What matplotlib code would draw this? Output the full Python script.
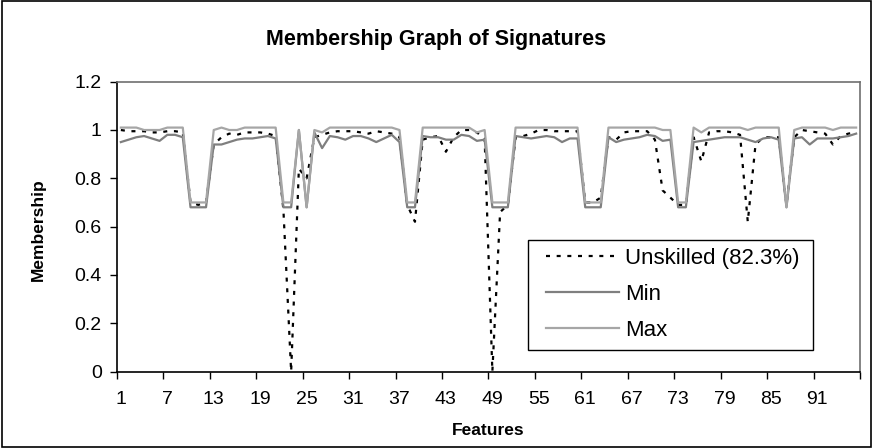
import matplotlib
matplotlib.use("Agg")
import matplotlib.pyplot as plt
import numpy as np
from matplotlib.patches import Rectangle

features = np.arange(1, 97)

unskilled = [
    1.0, 0.995, 0.995, 0.995, 0.99, 0.99, 0.995, 0.995, 0.99,
    0.70, 0.69, 0.70,
    0.94, 0.97, 0.985, 0.98, 0.99, 0.99, 0.99, 0.985, 0.975,
    0.67, 0.0, 0.84, 0.80,
    0.97, 0.98, 0.99, 0.995, 0.995, 0.995, 0.99, 0.985, 0.995, 0.99, 0.985, 0.97,
    0.69, 0.62,
    0.96, 0.97, 0.975, 0.91, 0.97, 1.0, 1.0, 0.99, 0.965,
    0.0, 0.66, 0.69,
    0.97, 0.975, 0.985, 1.0, 1.0, 0.995, 0.995, 0.995, 0.995,
    0.70, 0.70, 0.72,
    0.97, 0.96, 0.99, 0.995, 0.995, 0.995, 0.96, 0.75, 0.72,
    0.69, 0.69,
    0.97, 0.87, 0.99, 0.995, 0.995, 0.99, 0.98, 0.62, 0.94, 0.97, 0.97, 0.97,
    0.69,
    0.97, 1.0, 0.995, 0.99, 0.985, 0.94, 0.975, 0.985, 0.99,
]

min_vals = [
    0.95, 0.96, 0.97, 0.975, 0.965, 0.955, 0.98, 0.98, 0.97,
    0.68, 0.68, 0.68,
    0.94, 0.94, 0.95, 0.96, 0.965, 0.965, 0.97, 0.975, 0.965,
    0.68, 0.68, 1.0, 0.68,
    0.99, 0.925, 0.975, 0.97, 0.96, 0.975, 0.975, 0.965, 0.95, 0.965, 0.98, 0.95,
    0.68, 0.68,
    0.975, 0.97, 0.97, 0.96, 0.96, 0.98, 0.975, 0.955, 0.96,
    0.68, 0.68, 0.68,
    0.975, 0.97, 0.965, 0.97, 0.975, 0.97, 0.95, 0.965, 0.965,
    0.68, 0.68, 0.68,
    0.97, 0.95, 0.96, 0.965, 0.97, 0.98, 0.975, 0.955, 0.96,
    0.68, 0.68,
    0.95, 0.955, 0.96, 0.965, 0.97, 0.97, 0.97, 0.96, 0.95, 0.965, 0.97, 0.96,
    0.68,
    0.965, 0.97, 0.94, 0.965, 0.965, 0.965, 0.97, 0.975, 0.985,
]

max_vals = [
    1.01, 1.01, 1.01, 1.0, 1.0, 1.0, 1.01, 1.01, 1.01,
    0.70, 0.70, 0.70,
    1.0, 1.01, 1.0, 1.0, 1.01, 1.01, 1.01, 1.01, 1.01,
    0.70, 0.70, 1.0, 0.68,
    1.0, 0.99, 1.01, 1.01, 1.01, 1.01, 1.01, 1.01, 1.01, 1.01, 1.01, 1.0,
    0.70, 0.70,
    1.01, 1.01, 1.01, 1.01, 1.01, 1.01, 1.01, 0.99, 1.0,
    0.70, 0.70, 0.70,
    1.01, 1.01, 1.01, 1.01, 1.01, 1.01, 1.01, 1.01, 1.01,
    0.70, 0.70, 0.70,
    1.01, 1.01, 1.01, 1.01, 1.01, 1.01, 1.01, 1.0, 1.0,
    0.70, 0.70,
    1.01, 0.99, 1.01, 1.01, 1.01, 1.01, 1.01, 1.0, 1.01, 1.01, 1.01, 1.01,
    0.68,
    1.0, 1.01, 1.01, 1.01, 1.01, 1.0, 1.01, 1.01, 1.01,
]

x_labels = list(range(1, 92, 6))
y_ticks = [0, 0.2, 0.4, 0.6, 0.8, 1.0, 1.2]
y_labels = ["0", "0.2", "0.4", "0.6", "0.8", "1", "1.2"]

plt.rcParams["font.family"] = ["Liberation Sans", "DejaVu Sans"]

W, H = 873, 448
fig = plt.figure(figsize=(W / 100, H / 100), dpi=100)
# plot area in pixels: left 117, right 860, top 81.7, bottom 371.5
ax = fig.add_axes([117 / W, 1 - 371.5 / H, 743 / W, 289.8 / H])

ax.plot(features, unskilled, color="black", linewidth=1.6,
        linestyle=(0, (1.8, 3.0)), label="Unskilled (82.3%)", zorder=2)
ax.plot(features, min_vals, color="#7f7f7f", linewidth=1.6, label="Min", zorder=3)
ax.plot(features, max_vals, color="#a6a6a6", linewidth=1.6, label="Max", zorder=4)

ax.set_xlim(0.5, 96.5)
ax.set_ylim(0, 1.2)
ax.set_xticks(np.arange(0.5, 97, 6))
ax.set_xticklabels([])
ax.set_xticks(x_labels, minor=True)
ax.set_xticklabels([str(v) for v in x_labels], minor=True)
ax.tick_params(axis="x", which="major", direction="out", length=5, width=1)
ax.tick_params(axis="x", which="minor", length=0, labelsize=14, pad=14)
ax.set_yticks(y_ticks)
ax.set_yticklabels(y_labels)
ax.tick_params(axis="y", direction="out", length=5, width=1, labelsize=14, pad=6)

for side in ["left", "bottom"]:
    ax.spines[side].set_color("black")
    ax.spines[side].set_linewidth(1.2)
for side in ["top", "right"]:
    ax.spines[side].set_color("#707070")
    ax.spines[side].set_linewidth(1.2)

ax.set_xlabel("Features", fontsize=12.5, fontweight="bold")
ax.xaxis.set_label_coords(0.5, -(423 - 371.5) / 289.8)
ax.set_ylabel("Membership", fontsize=12.5, fontweight="bold")
ax.yaxis.set_label_coords(-(117 - 46) / 743, 0.49)
fig.text(0.5, 1 - 40 / H, "Membership Graph of Signatures", fontsize=15.5,
         fontweight="bold", ha="center", va="center")

# legend entries without frame, box drawn separately
leg = ax.legend(loc="upper left", bbox_to_anchor=(546 / W, 1 - 248 / H),
                bbox_transform=fig.transFigure, fontsize=16, frameon=False,
                handlelength=3.3, handletextpad=0.25, borderpad=0,
                borderaxespad=0, labelspacing=0.68)
fig.patches.append(Rectangle((528 / W, 1 - 350 / H), 285 / W, 110 / H,
                             transform=fig.transFigure, fill=False,
                             edgecolor="black", linewidth=1.0))

fig.patches.append(Rectangle((0.002, 0.003), 0.996, 0.994, transform=fig.transFigure,
                             fill=False, edgecolor="black", linewidth=1.2))

fig.savefig("out.png", dpi=100)
